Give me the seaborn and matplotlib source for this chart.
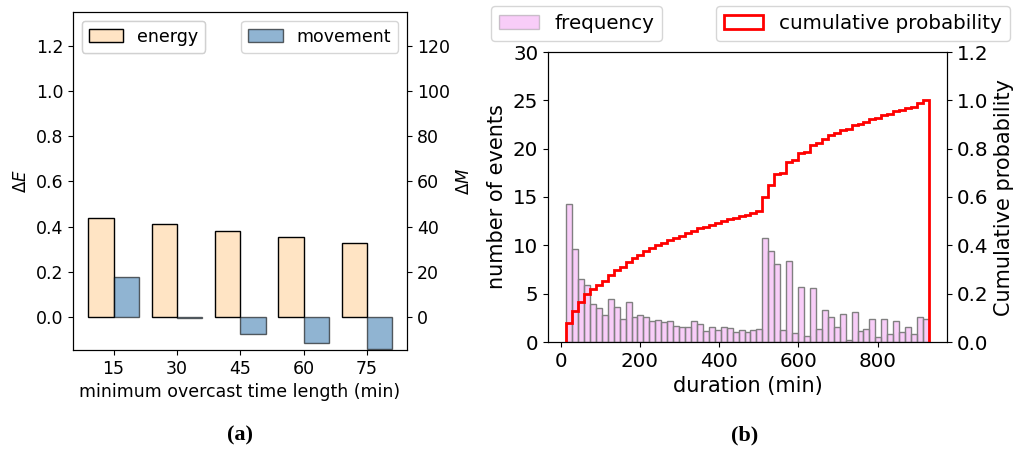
import numpy as np
import pandas as pd
import matplotlib
matplotlib.use("Agg")
import matplotlib.pyplot as plt
import seaborn as sns
from matplotlib.patches import Patch

# ---------------- data (a) ----------------
min_len = ["15", "30", "45", "60", "75"]
delta_E = [0.44, 0.41, 0.381, 0.353, 0.328]
delta_M = [17.5, -0.5, -7.4, -11.4, -14.0]

# ---------------- data (b) ----------------
bin_start = 14
bin_width = 15
frequency = [14.24, 9.59, 6.55, 5.93, 3.93, 3.55, 2.83, 4.48, 3.66, 2.38,
             4.10, 2.59, 2.79, 2.55, 2.22, 2.31, 2.03, 2.20, 1.69, 1.59,
             1.59, 2.17, 1.90, 1.10, 1.55, 1.20, 1.59, 1.48, 1.00, 1.28,
             1.03, 1.24, 1.31, 10.8, 9.4, 8.1, 1.2, 8.4, 0.9, 5.7,
             0.65, 5.6, 1.3, 3.3, 2.6, 1.55, 2.9, 0.2, 3.1, 1.1,
             1.3, 2.35, 0.5, 2.35, 0.8, 2.2, 1.0, 1.6, 0.8, 2.55, 2.4]

edges = (bin_start + bin_width * np.arange(len(frequency) + 1)).tolist()
centers = [(a + b) / 2 for a, b in zip(edges[:-1], edges[1:])]
dfH = pd.DataFrame({"duration": centers, "freq": frequency})

fig = plt.figure(figsize=(10.24, 4.5), dpi=100)

FS_A = 12.5

# ================= panel (a) =================
axA = fig.add_axes([73/1024, 1-350/450, (407-73)/1024, (350-12)/450])
axA2 = axA.twinx()

hue_order = ["energy", "movement"]
pal = {"energy": "bisque", "movement": "steelblue"}
dfE = pd.DataFrame({"len": min_len, "val": delta_E, "series": "energy"})
dfM = pd.DataFrame({"len": min_len, "val": delta_M, "series": "movement"})

sns.barplot(data=dfE, x="len", y="val", hue="series", hue_order=hue_order,
            order=min_len, palette=pal, saturation=1, errorbar=None,
            edgecolor="black", linewidth=1, legend=False, dodge=True, ax=axA)
sns.barplot(data=dfM, x="len", y="val", hue="series", hue_order=hue_order,
            order=min_len, palette=pal, saturation=1, errorbar=None,
            edgecolor="black", linewidth=1, alpha=0.6, legend=False,
            dodge=True, ax=axA2)

axA.set_xlim(-0.64, 4.63)
axA.set_ylim(-0.146, 1.35)
axA2.set_ylim(-14.6, 135)
axA.set_yticks([0.0, 0.2, 0.4, 0.6, 0.8, 1.0, 1.2])
axA2.set_yticks([0, 20, 40, 60, 80, 100, 120])
axA.set_xlabel("minimum overcast time length (min)", fontsize=FS_A)
axA.set_ylabel(r"$\Delta E$", fontsize=12)
axA2.set_ylabel(r"$\Delta M$", fontsize=12)
axA.tick_params(labelsize=FS_A)
axA2.tick_params(labelsize=FS_A)

legE = axA.legend(handles=[Patch(facecolor="bisque", edgecolor="black", label="energy")],
                  loc="upper left", fontsize=FS_A)
axA.add_artist(legE)
axA2.legend(handles=[Patch(facecolor="steelblue", edgecolor="black", alpha=0.6,
                           label="movement")],
            loc="upper right", fontsize=FS_A)

# ================= panel (b) =================
axB = fig.add_axes([548/1024, 1-342/450, (947-548)/1024, (342-52)/450])
axB2 = axB.twinx()

sns.histplot(data=dfH, x="duration", weights="freq", bins=edges, ax=axB,
             color="violet", alpha=0.4, edgecolor="0.5", linewidth=1)
axB2.hist(dfH["duration"], bins=edges, weights=dfH["freq"], cumulative=True,
          density=True, histtype="step", color="red", linewidth=2)

axB.set_xlim(-31.75, 974.75)
axB.set_ylim(0, 30)
axB2.set_ylim(0, 1.2)
axB.set_xticks([0, 200, 400, 600, 800])
axB.set_yticks([0, 5, 10, 15, 20, 25, 30])
axB2.set_yticks([0.0, 0.2, 0.4, 0.6, 0.8, 1.0, 1.2])
axB.set_xlabel("duration (min)", fontsize=15)
axB.set_ylabel("number of events", fontsize=15)
axB2.set_ylabel("Cumulative probability", fontsize=15)
axB.tick_params(labelsize=14.3)
axB2.tick_params(labelsize=14.3)

fig.legend(handles=[Patch(facecolor="violet", edgecolor="0.5", alpha=0.4, label="frequency")],
           loc="lower left", bbox_to_anchor=(491/1024, 1-41/450),
           borderaxespad=0, fontsize=14.3)
fig.legend(handles=[Patch(facecolor="none", edgecolor="red", linewidth=2,
                          label="cumulative probability")],
           loc="lower right", bbox_to_anchor=(1010/1024, 1-41/450),
           borderaxespad=0, fontsize=14.3)

# captions
fig.text(240/1024, 1-435/450, "(a)", ha="center", va="center",
         family="Liberation Serif", weight="bold", fontsize=16)
fig.text(745/1024, 1-435/450, "(b)", ha="center", va="center",
         family="Liberation Serif", weight="bold", fontsize=16)

fig.savefig("out.png", dpi=100)
